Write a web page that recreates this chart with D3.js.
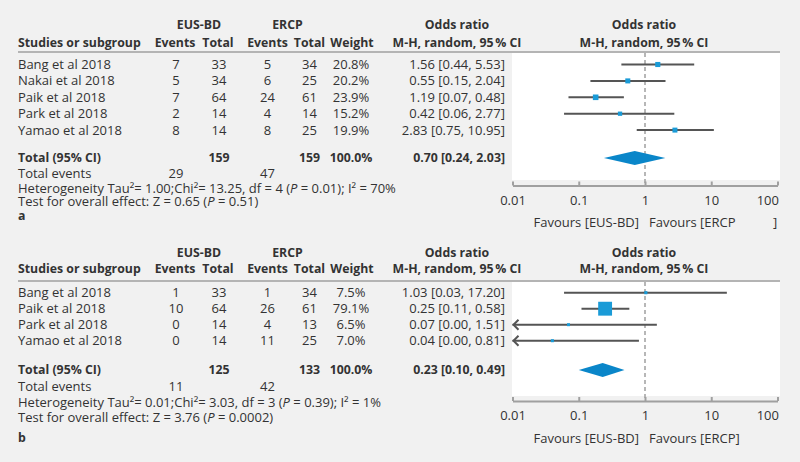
<!DOCTYPE html>
<html><head><meta charset="utf-8">
<script src="https://cdn.jsdelivr.net/npm/d3@7"></script>
<style>
body{margin:0;background:#f1f1f1}
text{font-family:"Open Sans",sans-serif;fill:#333;font-size:13px}
text.b{font-weight:bold;font-size:12.3px}
</style>
</head><body><svg id="c" width="800" height="462"></svg>
<script>
// ---------- DATA ----------
// Panel a
const studiesA   = ["Bang et al 2018","Nakai et al 2018","Paik et al 2018","Park et al 2018","Yamao et al 2018"];
const eusEventsA = [7,5,7,2,8];
const eusTotalA  = [33,34,64,14,14];
const ercpEventsA= [5,6,24,4,8];
const ercpTotalA = [34,25,61,14,25];
const weightA    = [20.8,20.2,23.9,15.2,19.9];
const orA        = [1.56,0.55,1.19,0.42,2.83];   // printed
const ciLowA     = [0.44,0.15,0.07,0.06,0.75];
const ciHighA    = [5.53,2.04,0.48,2.77,10.95];
const markOrA    = [1.56,0.55,0.18,0.42,2.83];   // plotted point
const markLowA   = [0.44,0.15,0.07,0.06,0.75];
const totalA     = {eusTotal:159, ercpTotal:159, weight:"100.0%", or:0.70, low:0.24, high:2.03, eusEvents:29, ercpEvents:47};
const hetA       = {tau2:"1.00", chi2:"13.25", df:4, p:"0.01", i2:"70%"};
const testA      = {z:"0.65", p:"0.51"};

// Panel b
const studiesB   = ["Bang et al 2018","Paik et al 2018","Park et al 2018","Yamao et al 2018"];
const eusEventsB = [1,10,0,0];
const eusTotalB  = [33,64,14,14];
const ercpEventsB= [1,26,4,11];
const ercpTotalB = [34,61,13,25];
const weightB    = [7.5,79.1,6.5,7.0];
const orB        = [1.03,0.25,0.07,0.04];
const ciLowB     = [0.03,0.11,0.00,0.00];
const ciHighB    = [17.20,0.58,1.51,0.81];
const markOrB    = [1.03,0.25,0.07,0.04];
const markLowB   = [0.06,0.11,0.00,0.00];
const totalB     = {eusTotal:125, ercpTotal:133, weight:"100.0%", or:0.23, low:0.10, high:0.49, eusEvents:11, ercpEvents:42};
const hetB       = {tau2:"0.01", chi2:"3.03", df:3, p:"0.39", i2:"1%"};
const testB      = {z:"3.76", p:"0.0002"};

const tickValues = [0.01,0.1,1,10,100];
const tickLabels = ["0.01","0.1","1","10","100"];
const favLeft = "Favours [EUS-BD]";

// ---------- DRAW ----------
const svg = d3.select("#c");
svg.append("rect").attr("width",800).attr("height",462).attr("fill","#f1f1f1");

const f2 = d3.format(".2f");
const col = {name:18, eusEv:176, eusTot:219, ercpEv:267.5, ercpTot:309.5, weight:351, orRight:505, orHead:457, plotHead:644, eusHead:199, ercpHead:287.5};
const sqColor = "#1a9bd7", diaColor = "#0a86c9", lineColor = "#555";

function txt(g, x, y, s, anchor, cls){
  return g.append("text").attr("x",x).attr("y",y).attr("dy","0.35em")
    .attr("text-anchor",anchor||"start").attr("class",cls||null).text(s);
}

function drawPanel(d, L){
  const g = svg.append("g");
  const n = d.studies.length;
  const y = d3.scaleLinear().domain([0,n-1]).range([L.row0, L.row0 + (n-1)*L.step]);
  const x = d3.scaleLog().domain([0.01,100]).range([512.5,777.5]);
  const size = d3.scaleLinear().domain([0,100]).range([2,17]);

  g.append("rect").attr("x",512).attr("y",L.plotTop).attr("width",268).attr("height",L.plotBottom-L.plotTop).attr("fill","#fff");
  g.append("line").attr("x1",18).attr("x2",780).attr("y1",L.line).attr("y2",L.line).attr("stroke","#b4b4b4").attr("stroke-width",2);

  txt(g,col.eusHead,L.h1,"EUS-BD","middle","b");
  txt(g,col.ercpHead,L.h1,"ERCP","middle","b");
  txt(g,col.orHead,L.h1,"Odds ratio","middle","b");
  txt(g,col.plotHead,L.h1,"Odds ratio","middle","b");
  txt(g,col.name,L.h2,"Studies or subgroup","start","b");
  txt(g,col.eusEv-1,L.h2,"Events","middle","b");
  txt(g,col.eusTot-1,L.h2,"Total","middle","b");
  txt(g,col.ercpEv,L.h2,"Events","middle","b");
  txt(g,col.ercpTot,L.h2,"Total","middle","b");
  txt(g,col.weight+1,L.h2,"Weight","middle","b");
  txt(g,col.orHead,L.h2,"M-H, random, 95\u202F% CI","middle","b");
  txt(g,col.plotHead,L.h2,"M-H, random, 95\u202F% CI","middle","b");

  d.studies.forEach((s,i)=>{
    const yy = y(i);
    txt(g,col.name,yy,s);
    txt(g,col.eusEv,yy,d.eusEvents[i],"middle");
    txt(g,col.eusTot,yy,d.eusTotal[i],"middle");
    txt(g,col.ercpEv,yy,d.ercpEvents[i],"middle");
    txt(g,col.ercpTot,yy,d.ercpTotal[i],"middle");
    txt(g,col.weight,yy,d.weight[i].toFixed(1)+"%","middle");
    txt(g,col.orRight,yy,`${f2(d.or[i])} [${f2(d.low[i])}, ${f2(d.high[i])}]`,"end");
  });

  g.append("line").attr("x1",x(1)).attr("x2",x(1)).attr("y1",L.plotTop).attr("y2",L.axisY)
    .attr("stroke","#a0a0a0").attr("stroke-width",1.5).attr("stroke-dasharray","4,3");

  d.studies.forEach((s,i)=>{
    const yy = y(i);
    const lo = d.markLow[i], hi = d.high[i];
    const clipped = lo < 0.01;
    const x1 = clipped ? x(0.01) : x(lo);
    const x2 = x(Math.min(hi,100));
    g.append("line").attr("x1",x1).attr("x2",x2).attr("y1",yy).attr("y2",yy)
      .attr("stroke",lineColor).attr("stroke-width",2);
    if(clipped){
      g.append("path").attr("d",`M${x1+6},${yy-5}L${x1+1},${yy}L${x1+6},${yy+5}`)
        .attr("fill","none").attr("stroke",lineColor).attr("stroke-width",2);
    }
    const sz = size(d.weight[i]);
    g.append("rect").attr("x",x(d.markOr[i])-sz/2).attr("y",yy-sz/2).attr("width",sz).attr("height",sz).attr("fill",sqColor);
  });

  const t = d.total;
  txt(g,col.name,L.total,"Total (95% CI)","start","b");
  txt(g,col.eusTot,L.total,t.eusTotal,"middle","b");
  txt(g,col.ercpTot,L.total,t.ercpTotal,"middle","b");
  txt(g,col.weight,L.total,t.weight,"middle","b");
  txt(g,col.orRight,L.total,`${f2(t.or)} [${f2(t.low)}, ${f2(t.high)}]`,"end","b");
  g.append("path").attr("d",`M${x(t.low)},${L.total}L${x(t.or)},${L.total-7}L${x(t.high)},${L.total}L${x(t.or)},${L.total+7}Z`).attr("fill",diaColor);

  txt(g,col.name,L.events,"Total events");
  txt(g,col.eusEv,L.events,t.eusEvents,"middle");
  txt(g,col.ercpEv,L.events,t.ercpEvents,"middle");

  const h = d.het;
  const ht = txt(g,col.name,L.het,"");
  ht.append("tspan").text(`Heterogeneity Tau²= ${h.tau2};Chi²= ${h.chi2}, df = ${h.df} (`);
  ht.append("tspan").attr("font-style","italic").text("P");
  ht.append("tspan").text(` = ${h.p}); I² = ${h.i2}`);
  const tt = txt(g,col.name,L.test,"");
  tt.append("tspan").text(`Test for overall effect: Z = ${d.test.z} (`);
  tt.append("tspan").attr("font-style","italic").text("P");
  tt.append("tspan").text(` = ${d.test.p})`);
  txt(g,col.name,L.label,d.label,"start","b");

  const ax = g.append("g").attr("transform",`translate(0,${L.axisY})`)
    .call(d3.axisBottom(x).tickValues(tickValues).tickFormat((v,i)=>tickLabels[i]).tickSizeInner(-4).tickSizeOuter(0).tickPadding(10));
  ax.select(".domain").attr("stroke","#a0a0a0").attr("stroke-width",2);
  ax.selectAll(".tick line").attr("stroke","#a0a0a0").attr("stroke-width",2);
  ax.selectAll(".tick text").attr("font-size",13).attr("font-family","Open Sans").attr("fill","#333");
  ax.selectAll(".tick text").filter((v,i)=>i===tickValues.length-1).attr("text-anchor","end").attr("x",1);

  txt(g,639,L.fav,favLeft,"end");
  if(d.ercpBracketApart){
    txt(g,649,L.fav,"Favours [ERCP","start");
    txt(g,773,L.fav,"]","start");
  } else {
    txt(g,649,L.fav,"Favours [ERCP]","start");
  }
}

drawPanel({studies:studiesA,eusEvents:eusEventsA,eusTotal:eusTotalA,ercpEvents:ercpEventsA,ercpTotal:ercpTotalA,
  weight:weightA,or:orA,low:ciLowA,high:ciHighA,markOr:markOrA,markLow:markLowA,total:totalA,het:hetA,test:testA,label:"a",ercpBracketApart:true},
  {h1:25,h2:43,line:52,row0:64.5,step:16.4,total:158,events:173,het:188,test:201.5,label:216,plotTop:53,plotBottom:180,axisY:185.5,fav:222});

drawPanel({studies:studiesB,eusEvents:eusEventsB,eusTotal:eusTotalB,ercpEvents:ercpEventsB,ercpTotal:ercpTotalB,
  weight:weightB,or:orB,low:ciLowB,high:ciHighB,markOr:markOrB,markLow:markLowB,total:totalB,het:hetB,test:testB,label:"b",ercpBracketApart:false},
  {h1:253,h2:269,line:281,row0:292.7,step:16,total:370,events:386.7,het:402.7,test:417.3,label:438,plotTop:282,plotBottom:396,axisY:401,fav:438});
</script>
</body></html>
